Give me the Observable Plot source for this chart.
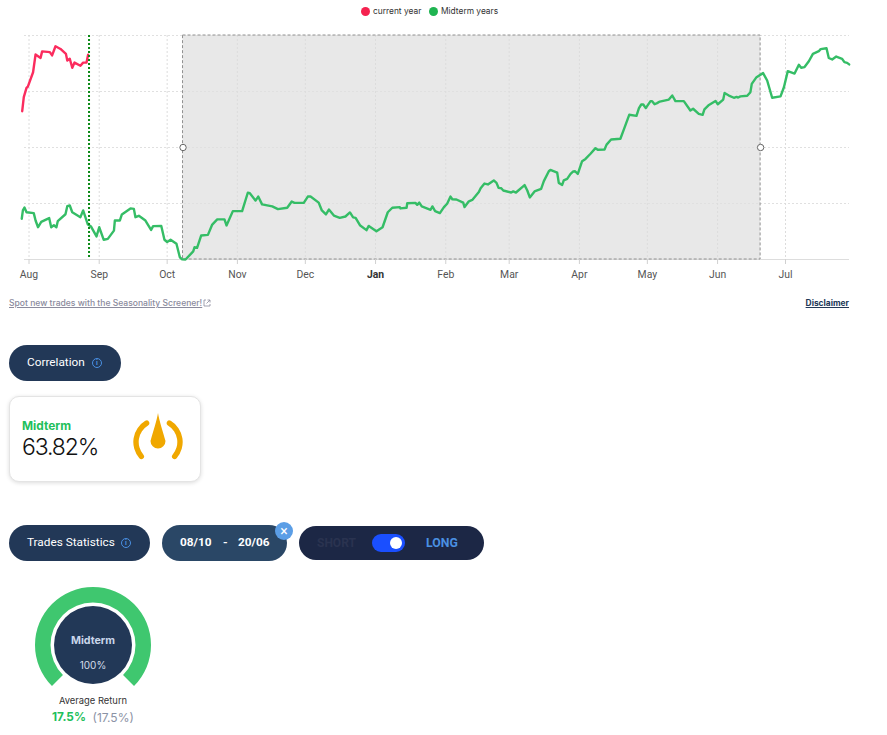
<!DOCTYPE html>
<html>
<head>
<meta charset="utf-8">
<script src="https://cdn.jsdelivr.net/npm/d3@7"></script>
<script src="https://cdn.jsdelivr.net/npm/@observablehq/plot@0.6"></script>
<style>
html,body{margin:0;padding:0;background:#fff;overflow:hidden}
#page{position:relative;width:887px;height:735px;font-family:Inter,"Noto Sans",sans-serif;color:#222}
#page>*{position:absolute}
#chart{left:0;top:20px}
#chart svg{display:block;overflow:visible}
.t{white-space:nowrap;line-height:1}
.pill{border-radius:18px;box-sizing:border-box}
.pt{font-family:Roboto,sans-serif;font-size:11.8px;color:#fff;white-space:nowrap;line-height:1}
.info{width:8px;height:8px;border:1px solid #4a90e2;border-radius:50%;box-sizing:content-box;color:#4a90e2;font:700 7px/8px Roboto,sans-serif;text-align:center}
</style>
</head>
<body>
<div id="page">
  <div id="chart"></div>

  <div style="left:361px;top:7px;width:9px;height:9px;border-radius:50%;background:#f5224f"></div>
  <div class="t" style="left:373px;top:7px;font-size:8.4px;color:#333">current year</div>
  <div style="left:429px;top:7px;width:9px;height:9px;border-radius:50%;background:#1fb451"></div>
  <div class="t" style="left:441px;top:7px;font-size:8.4px;color:#333">Midterm years</div>

  <div class="t" style="left:9px;top:299px;font-size:8.55px;font-weight:500;color:#8b8b9d;text-decoration:underline">Spot new trades with the Seasonality Screener!</div>
  <svg style="left:203px;top:299px" width="8" height="8" viewBox="0 0 8 8" fill="none" stroke="#8b8b9d" stroke-width=".8"><path d="M3 1H1v6h6V5M4.5 1H7v2.5M7 1 3.5 4.5"/></svg>
  <div class="t" style="right:38px;top:299px;font-size:8.4px;font-weight:700;color:#223857;text-decoration:underline">Disclaimer</div>

  <div class="pill" style="left:9px;top:345px;width:112px;height:36px;background:#223857"></div>
  <div class="pt" style="left:27px;top:357px">Correlation</div>
  <div class="info" style="left:92px;top:358px">i</div>

  <div style="left:9px;top:396px;width:192px;height:86px;box-sizing:border-box;background:#fff;border:1px solid #e4e4e4;border-radius:10px;box-shadow:0 1px 4px rgba(0,0,0,.14)"></div>
  <div class="t" style="left:22px;top:420px;font-size:11.9px;font-weight:700;color:#1fc05c">Midterm</div>
  <div class="t" style="left:22px;top:436px;font-size:23px;font-weight:300;letter-spacing:-1.15px;color:#111">63.82%</div>
  <svg id="dial" style="left:128px;top:408px" width="60" height="56"></svg>

  <div class="pill" style="left:9px;top:525px;width:141px;height:36px;background:#223857"></div>
  <div class="pt" style="left:27px;top:537px">Trades Statistics</div>
  <div class="info" style="left:121px;top:538px">i</div>

  <div class="pill" style="left:162px;top:525px;width:125px;height:36px;background:#2a4766"></div>
  <div class="pt" id="rangeA" style="left:180px;top:537px;font-weight:700"></div>
  <div class="pt" style="left:223px;top:537px;font-weight:700">-</div>
  <div class="pt" id="rangeB" style="left:238px;top:537px;font-weight:700"></div>
  <div style="left:275px;top:522px;width:18px;height:18px;border-radius:50%;background:#5b9ee6;color:#fff;font:14px/18px Roboto,sans-serif;text-align:center">×</div>

  <div class="pill" style="left:299px;top:526px;width:185px;height:34px;background:#1c2745"></div>
  <div class="t" style="left:317px;top:537px;font:700 12px/1 Roboto,sans-serif;color:#2a3350">SHORT</div>
  <div style="left:372px;top:534px;width:33px;height:18px;border-radius:9px;background:#1a4fff"></div>
  <div style="left:390px;top:537px;width:12px;height:12px;border-radius:50%;background:#fff"></div>
  <div class="t" style="left:426px;top:537px;font:700 12.3px/1 Roboto,sans-serif;color:#4a90e2">LONG</div>

  <svg id="ring" style="left:33px;top:585px" width="120" height="110"></svg>
  <div class="t" style="left:33px;width:120px;text-align:center;top:636px;font-size:10.7px;font-weight:700;color:#c9d6ea">Midterm</div>
  <div class="t" style="left:33px;width:120px;text-align:center;top:660px;font-size:10px;color:#d5deea">100%</div>
  <div class="t" style="left:33px;width:120px;text-align:center;top:696px;font-size:9.4px;color:#333">Average Return</div>
  <div class="t" style="left:52px;top:712px;font-size:11.8px;font-weight:700;color:#1fc05c">17.5%</div>
  <div class="t" style="left:92.5px;top:712px;font-size:12px;color:#8b93a5">(17.5%)</div>
</div>

<script>
// Month axis: days since 1 Aug, and labels
const monthOffsets = [0, 31, 61, 92, 122, 153, 184, 212, 243, 273, 304, 334];
const monthLabels = ["Aug","Sep","Oct","Nov","Dec","Jan","Feb","Mar","Apr","May","Jun","Jul"];
const yGrid = [0, 25, 50, 75, 100];

// Selection window and "today" marker, days since 1 Aug
const selectionStart = 68;   // 08/10
const selectionEnd = 323;    // 20/06
const todayOffset = 26.5;
const rangeLabels = ["08/10", "20/06"];

// Current year series: days since 1 Aug, normalised level
const currentDays = [-3,-2.3,-1.1,-0.5,1.8,2.9,5.1,5.8,9.2,10.2,11.7,13.9,16.3,16.9,18,19.1,20.1,22.7,23.9,25.4,26.1];
const currentVals = [66.2,72.5,76.6,77.2,83.6,91.5,90,92.9,92.6,91.1,95.2,94,91.8,88.8,89.6,85.6,87.9,86.5,87.9,87.9,91.4];

// Midterm years series: days since 1 Aug, normalised level
const midtermDays = [-3.2,-2.7,-2,-1.1,2.1,2.9,4,5.4,8.9,9.8,11,12.1,12.7,16.1,16.9,18,19.1,22.7,23.9,26,27.4,29.8,31,33,34.8,37.5,37.9,40.1,41,44.8,46.3,47,48.5,51.4,53.9,54.8,58.4,59.8,61,62.5,65.1,66.6,67.6,69.1,72.5,73.1,74.2,76,79,80.9,83.1,86.3,87.2,90,94.1,96.6,97.5,100,101.2,102.9,107.4,109.9,
114,116,117.2,121.3,123.1,124.3,127.9,129.3,131.1,132.4,134.6,137.2,139.7,141.7,143.1,144.2,146.1,149,150,153.4,156.1,158.4,160.4,163.7,164,166.7,167,170.6,171.4,172.3,173.4,177.3,178.1,179.3,181.4,183.2,184.6,186.1,186.9,188.7,191.7,192.3,194.2,195.7,198.6,199.4,201.1,202.6,205.2,206.4,207.3,208.5,209.4,212.9,213.8,215,218.8,220,221.1,223.2,226.1,227.3,229.5,230.2,233.2,233.9,235.4,236.1,237.6,
239.1,240.3,241.1,242.3,244.2,245.7,247.9,250.1,251.1,254.1,255,257,261.1,262.6,265,268.2,269.3,270.3,271.2,272.3,274.4,275.1,276.2,277.3,278.5,282.5,284,285.4,289.1,292,293.2,295.7,297.4,298.2,300.2,303.1,304.1,306.5,307.1,309,311.2,312.4,313.1,314.1,317.1,318.5,319.1,321.2,324.1,325.9,328.1,331.8,333.3,335,338,339.9,340.9,342.4,344.3,346.1,348.7,349.5,352.1,353.1,354.6,356.4,359,360,361.2,362.1];
const midtermVals = [18.2,21.9,23.2,21.1,20.7,17.4,14.4,16.8,18.5,14.4,15.3,14.4,17.1,20.2,23.8,24.1,21.1,18.9,21.9,15.6,14.7,10.3,14.4,8.8,9.2,12.9,17.4,17.4,20.1,22.8,22.6,18.9,19.5,17.4,13.2,14.9,15,8.8,7.8,8.8,7,1,0.1,0,3.6,5.5,5.2,10.7,11,15.6,17.9,17.9,15.2,21.6,21.6,29.8,29.6,26.3,28.1,24.6,23.7,22.5,
23.1,25.9,25.3,25.3,28.1,28.1,25.4,21.9,20.1,22.3,19.6,18.6,19.2,21,18.8,18.6,15.3,13.1,15,12.6,14.4,21.1,23.1,23.4,22.8,23.1,25.1,25.3,24.4,25.4,23.7,22.2,23.7,21.6,20.7,23.4,24.9,28.1,26.9,26.8,25.4,23.4,26,26.6,30.1,31.8,33.9,33.5,35.3,34.2,32,31.8,30.8,29.9,30.4,29.9,33.2,30.8,27.7,30.4,31.5,35,39.4,40,38.8,34.2,33.3,35.3,36,
38.2,39.3,39.4,38.2,43.9,44.9,47.2,49.7,49,49.1,51.3,53.6,53.9,58,64.6,64.1,67.6,69.2,69.2,67.6,70.7,70.7,69.3,69.8,70.5,71.4,73.2,70.7,70.7,66.5,67.3,65,64.6,67,69,70.8,69.3,71.4,74.3,73.2,72.2,72.6,72.3,72.8,73.1,74.7,78.4,81.4,83.2,79.9,72.2,72.8,76.9,84.1,83,86.9,85.6,85.9,88.5,91.8,93,93.9,94.3,90,89.3,90.6,89.6,88.1,87.8,87.1];

// Gauge
const gaugeStartDeg = -135;
const gaugeEndDeg = 135;

const current = currentDays.map((d, i) => ({d, v: currentVals[i]}));
const midterm = midtermDays.map((d, i) => ({d, v: midtermVals[i]}));
const months = monthOffsets.map((d, i) => ({d, label: monthLabels[i]}));

const plot = Plot.plot({
  width: 887,
  height: 270,
  marginLeft: 24,
  marginRight: 38,
  marginTop: 15,
  marginBottom: 31,
  style: {background: "transparent", overflow: "visible"},
  x: {domain: [-1.987, 362.25], axis: null},
  y: {domain: [0, 100], axis: null},
  marks: [
    Plot.rect([{}], {x1: selectionStart, x2: selectionEnd, y1: 0, y2: 100, fill: "#e8e8e8"}),
    Plot.ruleY(yGrid, {stroke: "#e0e0e0", strokeDasharray: "2,2", strokeWidth: 1}),
    Plot.ruleX(monthOffsets, {stroke: "#dcdcdc", strokeDasharray: "2,2", strokeWidth: 1}),
    Plot.ruleY([0], {stroke: "#dddddd", strokeWidth: 1.2}),
    Plot.rect([{}], {x1: selectionStart, x2: selectionEnd, y1: 0, y2: 100, fill: "none", stroke: "#909090", strokeWidth: 1, strokeDasharray: "3,2"}),
    Plot.axisX(monthOffsets, {tickSize: 5, stroke: "#d0d0d0", tickFormat: () => "", anchor: "bottom", label: null}),
    Plot.text(months.filter(m => m.label !== "Jan"), {x: "d", text: "label", frameAnchor: "bottom", dy: 18, fontSize: 10.4, fill: "#555", fontFamily: "Roboto, sans-serif"}),
    Plot.text(months.filter(m => m.label === "Jan"), {x: "d", text: "label", frameAnchor: "bottom", dy: 18, fontSize: 10.4, fontWeight: 700, fill: "#333", fontFamily: "Roboto, sans-serif"}),
    Plot.line(midterm, {x: "d", y: "v", stroke: "#35bd66", strokeWidth: 2.4, strokeLinejoin: "round"}),
    Plot.line(current, {x: "d", y: "v", stroke: "#fb2c5e", strokeWidth: 2.4, strokeLinejoin: "round"}),
    Plot.ruleX([todayOffset], {stroke: "#0b8a16", strokeWidth: 2, strokeDasharray: "2,2"}),
    Plot.dot([selectionStart, selectionEnd], {x: d => d, y: () => 50, r: 3.2, fill: "#fff", stroke: "#666", strokeWidth: 1})
  ]
});
document.getElementById("chart").appendChild(plot);

document.getElementById("rangeA").textContent = rangeLabels[0];
document.getElementById("rangeB").textContent = rangeLabels[1];

// Gauge ring and inner disc
const rad = Math.PI / 180;
const ring = d3.select("#ring").append("g").attr("transform", "translate(60,60)");
ring.append("path")
  .attr("d", d3.arc()({innerRadius: 42.5, outerRadius: 58, startAngle: gaugeStartDeg * rad, endAngle: gaugeEndDeg * rad}))
  .attr("fill", "#3fc76f");
ring.append("circle").attr("r", 39).attr("fill", "#223857");

// Dial icon on the correlation card
const dial = d3.select("#dial").append("g").attr("transform", "translate(30,34)");
const dialArc = d3.arc().cornerRadius(2.7);
[[-138, -24], [24, 138]].forEach(([a, b]) => {
  dial.append("path")
    .attr("d", dialArc({innerRadius: 19.3, outerRadius: 24.7, startAngle: a * rad, endAngle: b * rad}))
    .attr("fill", "#f0a800");
});
dial.append("path")
  .attr("d", "M0,-29 C1,-22 5,-10 7.5,-1 A7.5,7.5 0 1 1 -7.5,-1 C-5,-10 -1,-22 0,-29 Z")
  .attr("fill", "#f0a800");
</script>
</body>
</html>
